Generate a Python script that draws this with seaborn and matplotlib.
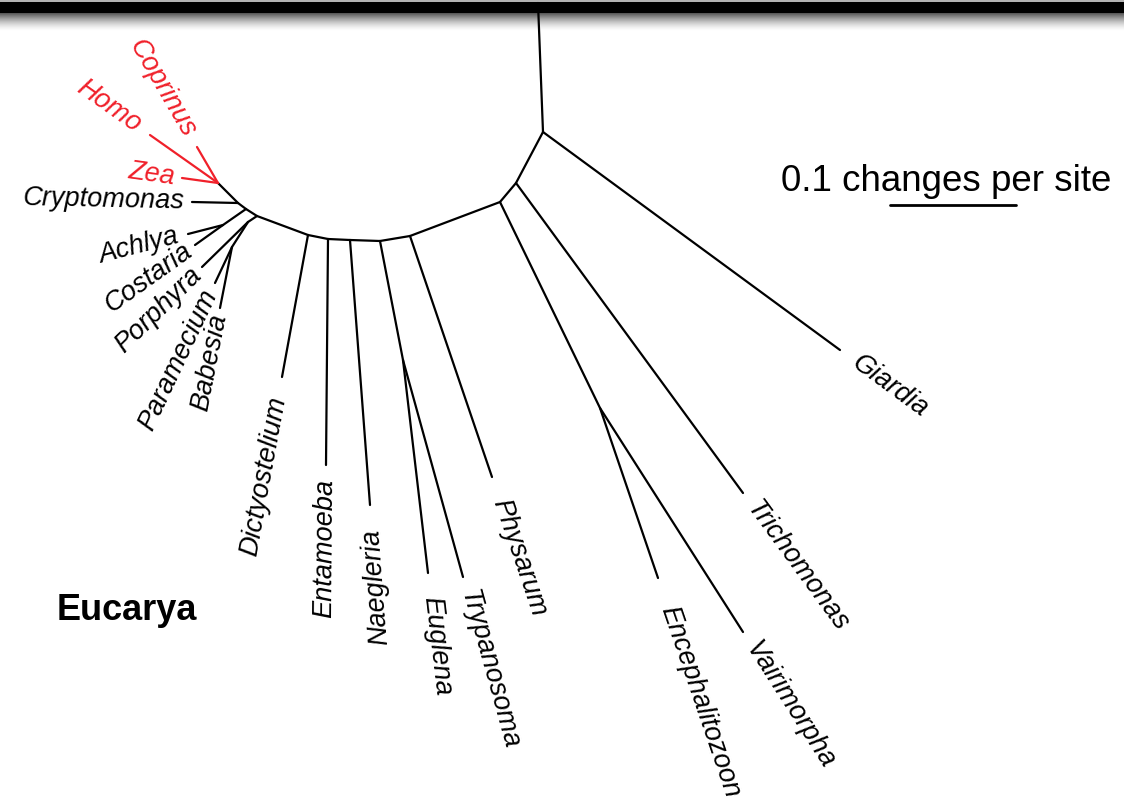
import numpy as np
import pandas as pd
import matplotlib
matplotlib.use("Agg")
import matplotlib.pyplot as plt
import seaborn as sns

# unrooted tree layout, 1260 layout units = 1 change per site
node_name = ["outgroup", "n0", "Giardia", "n1", "Trichomonas", "n2", "nMicro",
             "Encephalitozoon", "Vairimorpha", "n3", "Physarum", "n4", "nEug",
             "Euglena", "Trypanosoma", "n5", "Naegleria", "n6", "Entamoeba", "n7",
             "Dictyostelium", "n8", "n9", "Porphyra", "nPB", "Paramecium", "Babesia",
             "n10", "nAC", "Achlya", "Costaria", "n11", "Cryptomonas", "nRed",
             "Zea", "Homo", "Coprinus"]
node_x = [538, 543, 840, 516, 743, 500, 600,
          658, 743, 410, 492, 380, 403,
          428, 463, 350, 370, 328, 326, 308,
          282, 257, 248, 202, 232, 215, 220,
          246, 223, 188, 195, 238, 192, 218,
          182, 150, 197]
node_y = [3, 132, 350, 183, 493, 202, 408,
          578, 632, 236, 477, 241, 360,
          573, 577, 240, 505, 239, 465, 235,
          377, 216, 222, 267, 247, 283, 308,
          209, 225, 234, 245, 203, 202, 183,
          178, 135, 147]
node_parent = ["n0", None, "n0", "n0", "n1", "n1", "n2",
               "nMicro", "nMicro", "n2", "n3", "n3", "n4",
               "nEug", "nEug", "n4", "n5", "n5", "n6", "n6",
               "n7", "n7", "n8", "n9", "n9", "nPB", "nPB",
               "n8", "n10", "nAC", "nAC", "n10", "n11", "n11",
               "nRed", "nRed", "nRed"]
red_taxa = ["Zea", "Homo", "Coprinus"]
read_upward = ["Naegleria"]
scale_length = 0.1  # changes per site
units_per_change = 1260

nodes = pd.DataFrame({"name": node_name, "x": node_x, "y": node_y,
                      "parent": node_parent}).set_index("name")

rows = []
for name, r in nodes.iterrows():
    if r["parent"] is None:
        continue
    p = nodes.loc[r["parent"]]
    grp = "red" if name in red_taxa else "black"
    rows.append({"edge": name, "x": p["x"], "y": p["y"], "grp": grp})
    rows.append({"edge": name, "x": r["x"], "y": r["y"], "grp": grp})
edges = pd.DataFrame(rows)

sns.set_theme(style="white")
plt.rcParams["font.family"] = ["Liberation Sans", "DejaVu Sans"]
plt.rcParams["text.color"] = "black"
red = "#f0202a"

fig = plt.figure(figsize=(11.24, 8), dpi=100)
ax = fig.add_axes([0, 0, 1, 1])
sns.lineplot(data=edges, x="x", y="y", units="edge", hue="grp",
             palette={"black": "black", "red": red}, estimator=None,
             sort=False, lw=1.6, legend=False, ax=ax)

# distance between branch tip and its label
gaps = {"Dictyostelium": 20, "Naegleria": 24, "Euglena": 24, "Physarum": 24,
        "Encephalitozoon": 30, "Giardia": 18, "Cryptomonas": 8, "Costaria": 6,
        "Porphyra": 6, "Babesia": 6, "Zea": 7, "Paramecium": 9, "Achlya": 10}

leaves = [n for n in node_name if n not in node_parent and n != "outgroup"]
for name in leaves:
    r = nodes.loc[name]
    p = nodes.loc[r["parent"]]
    dx, dy = r["x"] - p["x"], r["y"] - p["y"]
    d = np.hypot(dx, dy)
    ang = np.degrees(np.arctan2(-dy, dx))
    ha = "left"
    if abs(ang) > 90 or name in read_upward:
        ang = ang - 180 if ang > 0 else ang + 180
        ha = "right"
    g = gaps.get(name, 14)
    ax.text(r["x"] + g * dx / d, r["y"] + g * dy / d, name,
            rotation=ang, rotation_mode="anchor", ha=ha, va="center",
            fontsize=19.5, style="italic",
            color=red if name in red_taxa else "black")

# scale bar
bar_x0 = 890
bar_len = scale_length * units_per_change
ax.plot([bar_x0, bar_x0 + bar_len], [205, 205], color="black", lw=2)
ax.text(781, 191, f"{scale_length} changes per site", fontsize=26.5,
        ha="left", va="baseline")

ax.text(127, 610, "Eucarya", fontsize=26, fontweight="bold",
        ha="center", va="center")

# dark band with shadow at the top edge
band = np.ones(32)
band[:2] = 0.7
band[2:13] = 0.0
band[13:] = 1 - 0.65 * np.linspace(1, 0, 19) ** 1.6
ax.imshow(band[:, None], cmap="gray", vmin=0, vmax=1, aspect="auto",
          extent=[0, 1124, 32, 0], zorder=0.5)

ax.set_xlim(0, 1124)
ax.set_ylim(800, 0)
ax.axis("off")
fig.savefig("out.png", dpi=100)
